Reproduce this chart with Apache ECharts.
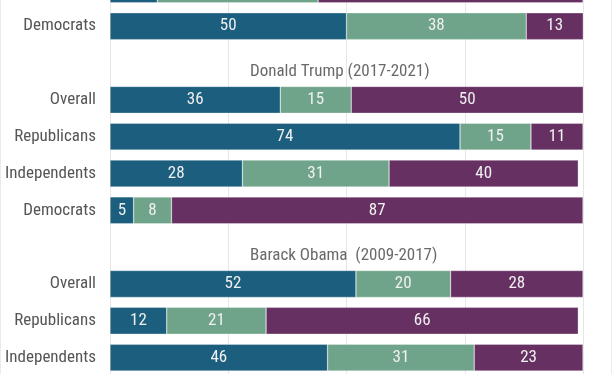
<!DOCTYPE html>
<html>
<head>
<meta charset="utf-8">
<script src="https://cdn.jsdelivr.net/npm/echarts@6/dist/echarts.min.js"></script>
<style>
html,body{margin:0;padding:0;width:612px;height:374px;overflow:hidden;background:#fff;position:relative;}
#chart{position:absolute;left:0;top:-29px;width:612px;height:405px;}
#frame{position:absolute;left:0;top:0;width:610px;height:374px;border-left:1px solid #ebebeb;border-right:1px solid #ebebeb;pointer-events:none;}
</style>
</head>
<body>
<div id="chart"></div>
<div id="frame"></div>
<script>
// Category slots (top to bottom); empty strings are the section-title slots
const categories = ['Independents', 'Democrats', '', 'Overall', 'Republicans', 'Independents', 'Democrats', '', 'Overall', 'Republicans', 'Independents'];
const sectionTitles = ['', '', 'Donald Trump (2017-2021)', '', '', '', '', 'Barack Obama  (2009-2017)', '', '', ''];
const seriesA = [10, 50, null, 36, 74, 28, 5, null, 52, 12, 46];
const seriesB = [34, 38, null, 15, 15, 31, 8, null, 20, 21, 31];
const seriesC = [56, 13, null, 50, 11, 40, 87, null, 28, 66, 23];
const xTicks = [0, 25, 50, 75, 100];

const FONT = '"Roboto Condensed", Roboto, sans-serif';
const colors = ['#1b5e7e', '#6fa48a', '#663063'];
const GRID_LEFT = 110, GRID_RIGHT = 29, TITLE_LEFT_PX = 250;
const plotW = 612 - GRID_LEFT - GRID_RIGHT;
const titleX = (TITLE_LEFT_PX - GRID_LEFT) / plotW * (xTicks[xTicks.length - 1] - xTicks[0]);

const mk = (name, data, color) => ({
  name, type: 'bar', stack: 'total', data, barCategoryGap: '27%',
  itemStyle: { color, borderColor: 'rgba(255,255,255,0.6)', borderWidth: 0.5 },
  label: { show: true, position: 'inside', color: '#f0f0f0', fontSize: 17, fontFamily: FONT,
           formatter: p => p.value == null ? '' : String(p.value) },
  emphasis: { disabled: true }
});

const chart = echarts.init(document.getElementById('chart'), null, { renderer: 'canvas' });
chart.setOption({
  animation: false,
  grid: { left: GRID_LEFT, right: GRID_RIGHT, top: 0, bottom: 0 },
  xAxis: {
    type: 'value', min: xTicks[0], max: xTicks[xTicks.length - 1], interval: 25,
    axisLabel: { show: false }, axisLine: { show: false }, axisTick: { show: false },
    splitLine: { show: true, lineStyle: { color: '#e6e6e6', width: 1 } }
  },
  yAxis: {
    type: 'category', inverse: true, data: categories,
    axisLine: { show: false }, axisTick: { show: false },
    axisLabel: { color: '#555', fontSize: 17, fontFamily: FONT, margin: 14 }
  },
  series: [
    mk('A', seriesA, colors[0]),
    mk('B', seriesB, colors[1]),
    mk('C', seriesC, colors[2]),
    {
      type: 'scatter', symbolSize: 0, silent: true,
      data: sectionTitles.map((t, i) => t ? { value: [titleX, i], title: t } : null),
      label: { show: true, position: [0, 9], align: 'left', verticalAlign: 'middle',
               color: '#444', fontSize: 17, fontFamily: FONT, formatter: p => p.data.title }
    }
  ]
});
</script>
</body>
</html>
